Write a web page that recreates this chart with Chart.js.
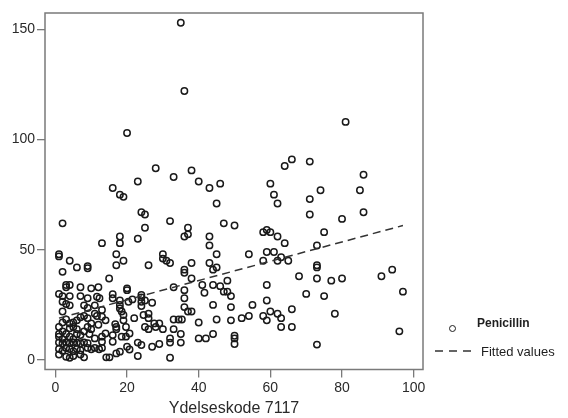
<!DOCTYPE html>
<html>
<head>
<meta charset="utf-8">
<script src="https://cdn.jsdelivr.net/npm/chart.js@4/dist/chart.umd.min.js"></script>
<style>
  html, body { margin: 0; padding: 0; background: #fff; }
  #wrap { position: relative; width: 568px; height: 418px; font-family: "Liberation Sans", Arial, sans-serif; }
  #c { position: absolute; left: 0; top: 0; }
  .lg { position: absolute; color: #1e1e1e; white-space: nowrap; line-height: 1; }
</style>
</head>
<body>
<div id="wrap">
  <canvas id="c" width="568" height="418"></canvas>
  <span class="lg" style="left:448.5px;top:324.5px;width:5px;height:5px;border:1.4px solid #1e1e1e;border-radius:50%;"></span>
  <span class="lg" style="left:477px;top:317px;font-size:12px;font-weight:bold;">Penicillin</span>
  <svg class="lg" style="left:434px;top:347px;" width="40" height="8"><line x1="1" y1="4" x2="38" y2="4" stroke="#333" stroke-width="1.5" stroke-dasharray="8 6"/></svg>
  <span class="lg" style="left:481px;top:345px;font-size:13px;">Fitted values</span>
</div>
<script>
// Penicillin observations (x = Ydelseskode 7117, y = Penicillin)
const penX = [35,36,20,81,66,64,71,28,38,33,86,23,40,46,60,43,16,18,19,61,74,85,71,62,45,24,25,71,86,80,32,2,47,50,25,37,58,59,60,75,62,18,36,37,43,23,13,18,43,64,73,
  1,1,17,30,45,54,59,61,4,19,30,31,32,38,43,63,58,62,65,9,9,6,17,26,45,44,73,73,2,36,36,94,15,38,48,68,73,77,80,91,
  44,46,47,3,4,3,7,10,12,20,20,33,41,59,97,1,2,4,7,11.6,12.3,9,16,16,24,24,25,24,36,36,41.6,48,49,70,75,18,21.5,20.4,59,
  2,3,4,8,11,18,24,27,36,44,49,55,2,9,13,18,18.5,37,38,66,60,62,11,26,78,
  3,4,5,6,7,8,9,11.6,13,14,19,19,22,24.6,26,33,34.4,35.3,45,49,52,54,58,59,63,40,
  1,4,5,9,10,10,16.7,17,17,19.7,25,26,27.6,28,29,30,33,63,66,96,
  1,1,3,4,6,7,9.5,11,13,13,16,16,18.5,19.7,20.7,23,24,27,29,32,32,35,35,40,42,44,50,50,50,73,
  1,2,3,4,5,6,7,8,1,2,3,4,5,6,7,3,4,5,8,9,9,10,11,12.2,13,14.2,15.1,17,18,20,20.7,23,32,
  2,5,2,8,12,14,6,2,7,1];
const penY = [153,122,103,108,91,88,90,87,86,83,84,81,81,80,80,78,78,75,74,75,77,77,73,71,71,67,66,66,67,64,63,62,62,61,60,60,58,59,58,58,56,56,56,57,56,55,53,53,52,53,52,
  48,47,48,48,48,48,49,49,45,45,46,45,44,44,44,46.6,45,45,45,42.6,41.6,42,43,43,42,41,43,42,40,41,39.6,41,37,37,36,38,37,36,37,38,
  34,33.5,31,34,34,33,33,32.5,33,32.5,31.7,33,34,34,31,30,29,29,29,28.7,28,28,29.8,28,29.5,28.4,27,26.4,31.7,28,30.5,31,29,30,29,27,27.5,26.4,27,
  26.4,25.4,24.8,24.8,24.8,25,24.5,26,24,25,24,25,22,23.6,22.7,23.4,22,22,22,23,22,21,21,21,21,
  18.4,16.6,17,18,19.4,20,19,20,19.6,18,20.4,18,19,20.4,19,18.4,18.4,18.4,18.4,18,19,20,20,18,19,17,
  15,14.4,15,15,16.6,14,16.3,15,14,15,15,14,16.6,15,16.6,14,14,15,15,13,
  11.8,10.6,11.8,10.6,11.8,11.3,11.8,9.8,10.6,8.3,11.3,8.3,10.6,10.6,12,7.9,6.8,6,7.3,9.8,7.9,7.9,11.8,9.8,9.8,11.8,11,9.8,7.3,7,
  8,7.6,8,7.6,8,7.8,7.6,8,5,4.2,5.4,5,4,5,4.4,1.5,1,1.8,1.2,7.6,5.5,4.9,5.5,4.9,5.5,1.2,1.2,3,3.8,6,4.8,1.8,1,
  9.5,9.5,13,13,16,12,14,17,2.5,2.5];
// Fitted values line (endpoints)
const fitX = [1, 97];
const fitY = [19, 61];
// Tick labels
const xTicks = [0, 20, 40, 60, 80, 100];
const yTicks = [0, 50, 100, 150];
const xTitle = "Ydelseskode 7117";

const penData = penX.map((x, i) => ({x: x, y: penY[i]}));
const fitData = fitX.map((x, i) => ({x: x, y: fitY[i]}));

const frame = {
  id: 'frame',
  afterDatasetsDraw(chart) {
    const a = chart.chartArea, ctx = chart.ctx;
    ctx.save();
    ctx.strokeStyle = '#7a7a7a';
    ctx.lineWidth = 1.5;
    ctx.strokeRect(a.left, a.top, a.right - a.left, a.bottom - a.top);
    ctx.restore();
  }
};

const tickFont = {family: '"Liberation Sans", Arial, sans-serif', size: 14};

new Chart(document.getElementById('c'), {
  type: 'scatter',
  data: {
    datasets: [
      {
        label: 'Penicillin',
        data: penData,
        pointStyle: 'circle',
        pointRadius: 3.2,
        pointBorderWidth: 1.5,
        borderColor: '#1a1a1a',
        backgroundColor: 'rgba(0,0,0,0)',
        order: 2
      },
      {
        label: 'Fitted values',
        type: 'line',
        data: fitData,
        showLine: true,
        pointRadius: 0,
        borderColor: '#333',
        borderWidth: 1.5,
        borderDash: [8, 5],
        fill: false,
        order: 1
      }
    ]
  },
  options: {
    responsive: false,
    animation: false,
    events: [],
    layout: {padding: {left: 0, top: 13, right: 145, bottom: 0}},
    plugins: {legend: {display: false}, tooltip: {enabled: false}},
    scales: {
      x: {
        type: 'linear',
        min: -2.9,
        max: 102.6,
        afterBuildTicks: s => { s.ticks = xTicks.map(v => ({value: v})); },
        afterFit: s => { s.height = 48.5; },
        border: {display: false},
        grid: {display: true, drawOnChartArea: false, drawTicks: true, tickLength: 8, color: '#7a7a7a', lineWidth: 1.3},
        ticks: {font: tickFont, color: '#2a2a2a', padding: 2, maxRotation: 0, autoSkip: false},
        title: {display: true, text: xTitle, font: {family: '"Liberation Sans", Arial, sans-serif', size: 16}, color: '#2a2a2a', padding: {top: 0, bottom: 0}}
      },
      y: {
        type: 'linear',
        min: -4.3,
        max: 157.4,
        afterBuildTicks: s => { s.ticks = yTicks.map(v => ({value: v})); },
        afterFit: s => { s.width = 45; },
        border: {display: false},
        grid: {display: true, drawOnChartArea: false, drawTicks: true, tickLength: 8, color: '#7a7a7a', lineWidth: 1.3},
        ticks: {font: tickFont, color: '#2a2a2a', padding: 2, autoSkip: false}
      }
    }
  },
  plugins: [frame]
});
</script>
</body>
</html>
